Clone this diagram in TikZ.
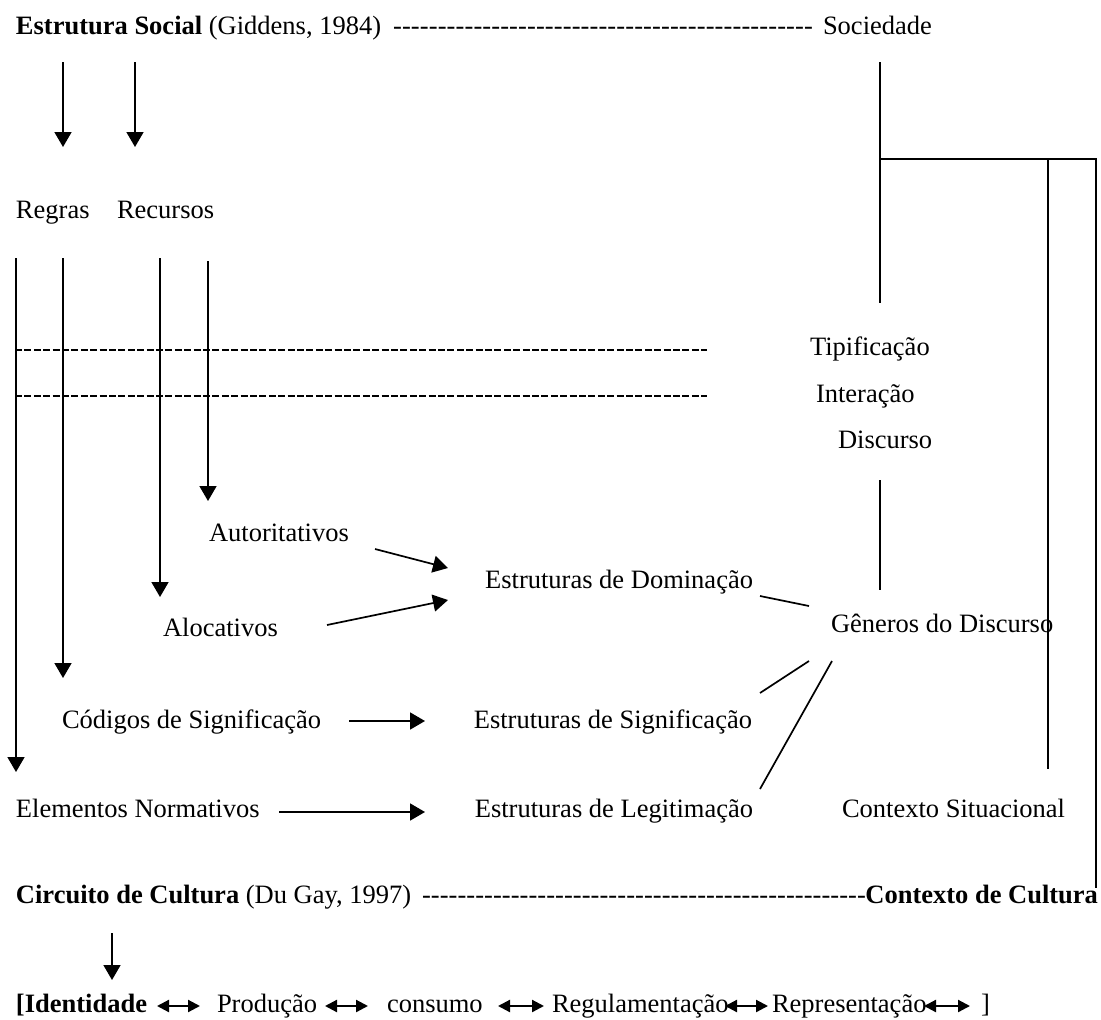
\documentclass[tikz,border=0pt]{standalone}
\usepackage{fontspec}
\setmainfont{Liberation Serif}
\usetikzlibrary{arrows.meta}
\begin{document}
\begin{tikzpicture}[x=1pt,y=-1pt,
  txt/.style={inner sep=0pt,outer sep=0pt,font=\fontsize{26.5}{30}\selectfont},
  ln/.style={line width=1.7pt},
  arr/.style={line width=1.7pt,-{Triangle[length=15pt,width=17pt]}},
  dbl/.style={line width=2.2pt,{Triangle[length=12pt,width=12pt]}-{Triangle[length=12pt,width=12pt]}},
  dline/.style={line width=1.8pt,dash pattern=on 7pt off 2.4pt}]
\useasboundingbox (0,0) rectangle (1101,1020);
\fill[white] (0,0) rectangle (1101,1020);
% ---- top row
\node[txt,anchor=base west] (es) at (16,34) {\textbf{Estrutura Social} (Giddens, 1984)};
\node[txt,anchor=base west] (dashA) at (393,34) {\hbox to 420pt{\xleaders\hbox{-}\hfill}};
\node[txt,anchor=base west] (soc) at (823,34) {Sociedade};
\node[txt,anchor=base west] (regras) at (16,218) {Regras};
\node[txt,anchor=base west] (recursos) at (117,218) {Recursos};
% ---- right column
\node[txt,anchor=base west] (tip) at (810,355) {Tipificação};
\node[txt,anchor=base west] (inter) at (816,402) {Interação};
\node[txt,anchor=base west] (disc) at (838,448) {Discurso};
% ---- middle
\node[txt,anchor=base west] (aut) at (209,541) {Autoritativos};
\node[txt,anchor=base east] (dom) at (753,588) {Estruturas de Dominação};
\node[txt,anchor=base west] (aloc) at (163,636) {Alocativos};
\node[txt,anchor=base west] (gen) at (831,632) {Gêneros do Discurso};
\node[txt,anchor=base west] (cod) at (62,728) {Códigos de Significação};
\node[txt,anchor=base east] (sig) at (752,728) {Estruturas de Significação};
\node[txt,anchor=base west] (elem) at (16,817) {Elementos Normativos};
\node[txt,anchor=base east] (leg) at (753,817) {Estruturas de Legitimação};
\node[txt,anchor=base west] (ctxs) at (842,817) {Contexto Situacional};
% ---- circuito row
\node[txt,anchor=base west] (circ) at (16,903) {\textbf{Circuito de Cultura} (Du Gay, 1997)};
\node[txt,anchor=base west] (dashB) at (422,903) {\hbox to 444pt{\xleaders\hbox{-}\hfill}};
\node[txt,anchor=base east] (ctxc) at (1098,903) {\textbf{Contexto de Cultura}};
% ---- bottom row
\node[txt,anchor=base west] (ident) at (16,1012) {\textbf{[Identidade}};
\node[txt,anchor=base west] (prod) at (217,1012) {Produção};
\node[txt,anchor=base west] (cons) at (387,1012) {consumo};
\node[txt,anchor=base west] (regul) at (552,1012) {Regulamentação};
\node[txt,anchor=base west] (repr) at (772,1012) {Representação};
\node[txt,anchor=base west] (brk) at (981,1012) {]};
% ---- coordinates
\coordinate (r1) at (63,62);   \coordinate (r2) at (63,147);
\coordinate (c1) at (135,62);  \coordinate (c2) at (135,147);
\coordinate (s1) at (880,62);  \coordinate (s2) at (880,303);
\coordinate (b1) at (880,159); \coordinate (b2) at (1048,159); \coordinate (b3) at (1096,159);
\coordinate (b4) at (1048,769); \coordinate (b5) at (1096,888);
\coordinate (v1a) at (16,258);  \coordinate (v1b) at (16,772);
\coordinate (v2a) at (63,258);  \coordinate (v2b) at (63,678);
\coordinate (v3a) at (160,258); \coordinate (v3b) at (160,597);
\coordinate (v4a) at (208,261); \coordinate (v4b) at (208,501);
\coordinate (h1a) at (15,350);  \coordinate (h1b) at (707,350);
\coordinate (h2a) at (15,396);  \coordinate (h2b) at (707,396);
\coordinate (d1) at (880,480); \coordinate (d2) at (880,590);
\coordinate (au1) at (375,549); \coordinate (au2) at (448,568);
\coordinate (al1) at (327,625); \coordinate (al2) at (448,600);
\coordinate (co1) at (349,721); \coordinate (co2) at (425,721);
\coordinate (el1) at (279,812); \coordinate (el2) at (425,812);
\coordinate (g1a) at (760,596); \coordinate (g1b) at (809,606);
\coordinate (g2a) at (809,661); \coordinate (g2b) at (760,693);
\coordinate (g3a) at (832,661); \coordinate (g3b) at (760,789);
\coordinate (ci1) at (112,933); \coordinate (ci2) at (112,980);
\coordinate (x1a) at (157,1006); \coordinate (x1b) at (200,1006);
\coordinate (x2a) at (325,1006); \coordinate (x2b) at (368,1006);
\coordinate (x3a) at (498,1006); \coordinate (x3b) at (544,1006);
\coordinate (x4a) at (725,1006); \coordinate (x4b) at (768,1006);
\coordinate (x5a) at (924,1006); \coordinate (x5b) at (970,1006);
% ---- connectors
\draw[arr] (r1) -- (r2);
\draw[arr] (c1) -- (c2);
\draw[ln] (s1) -- (s2);
\draw[ln] (b1) -- (b3) -- (b5);
\draw[ln] (b2) -- (b4);
\draw[arr] (v1a) -- (v1b);
\draw[arr] (v2a) -- (v2b);
\draw[arr] (v3a) -- (v3b);
\draw[arr] (v4a) -- (v4b);
\draw[dline] (h1a) -- (h1b);
\draw[dline] (h2a) -- (h2b);
\draw[ln] (d1) -- (d2);
\draw[arr] (au1) -- (au2);
\draw[arr] (al1) -- (al2);
\draw[arr] (co1) -- (co2);
\draw[arr] (el1) -- (el2);
\draw[ln] (g1a) -- (g1b);
\draw[ln] (g2a) -- (g2b);
\draw[ln] (g3a) -- (g3b);
\draw[arr] (ci1) -- (ci2);
\draw[dbl] (x1a) -- (x1b);
\draw[dbl] (x2a) -- (x2b);
\draw[dbl] (x3a) -- (x3b);
\draw[dbl] (x4a) -- (x4b);
\draw[dbl] (x5a) -- (x5b);
\end{tikzpicture}
\end{document}
